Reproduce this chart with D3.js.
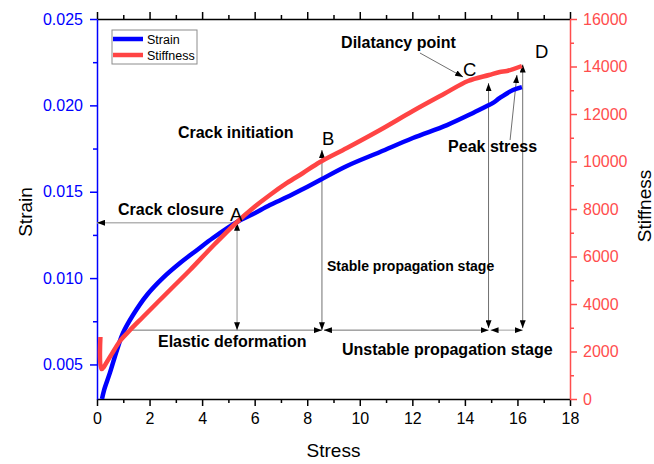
<!DOCTYPE html>
<html>
<head>
<meta charset="utf-8">
<script src="https://cdn.jsdelivr.net/npm/d3@7"></script>
<style>
  body { margin: 0; background: #fff; }
  svg { display: block; }
  text { font-family: "Liberation Sans", Arial, sans-serif; }
</style>
</head>
<body>
<svg id="chart" width="654" height="464"></svg>
<script>
// Strain vs. stress
const strainStress = [0.19, 0.27, 0.49, 0.76, 0.99, 1.37, 1.90, 2.51, 3.16, 3.81, 4.41, 5.33, 5.94, 6.58, 7.23, 7.84, 8.49, 9.51, 10.77, 12.02, 13.32, 14.31, 14.84, 15.07, 15.33, 15.83, 16.17];
const strainValues = [0.0030, 0.00352, 0.00451, 0.00584, 0.00682, 0.00786, 0.00902, 0.01001, 0.01087, 0.01163, 0.01232, 0.01325, 0.01371, 0.01423, 0.01469, 0.01516, 0.01568, 0.01649, 0.01730, 0.01811, 0.01886, 0.01956, 0.01996, 0.02014, 0.02043, 0.02089, 0.02106];

// Stiffness vs. stress
const stiffStress = [0.13, 0.17, 0.49, 0.875, 1.26, 1.75, 2.28, 2.89, 3.54, 4.41, 5.33, 5.94, 6.58, 7.23, 7.84, 8.49, 9.51, 10.77, 12.02, 13.20, 14.12, 14.92, 15.33, 15.60, 16.17];
const stiffValues = [2611, 1263, 1768, 2442, 2905, 3453, 4042, 4716, 5432, 6442, 7453, 8042, 8589, 9095, 9516, 9979, 10568, 11326, 12126, 12842, 13389, 13642, 13768, 13811, 14021];

// Ticks
const stressTicks = [0, 2, 4, 6, 8, 10, 12, 14, 16, 18];
const stressMinorTicks = [1, 3, 5, 7, 9, 11, 13, 15, 17];
const strainTicks = [0.005, 0.010, 0.015, 0.020, 0.025];
const strainMinorTicks = [0.0075, 0.0125, 0.0175, 0.0225];
const stiffTicks = [0, 2000, 4000, 6000, 8000, 10000, 12000, 14000, 16000];
const stiffMinorTicks = [1000, 3000, 5000, 7000, 9000, 11000, 13000, 15000];

// Stage boundaries (stress) and annotation levels
const stageStress = { A: 5.33, B: 8.56, C: 14.9, D: 16.2 };
const elasticStart = 1.26;
const baseStiff = 2900;      // level of the horizontal stage arrows
const pointAStrain = 0.0132; // crack closure level
const topStiff = { B: 10480, C: 13300, D: 14080 };

// Text labels (stress, stiffness position)
const labels = [
  { t: "Crack closure", x: 0.80, y: 7768, bold: true, size: 16 },
  { t: "Crack initiation", x: 3.08, y: 10989, bold: true, size: 16 },
  { t: "Dilatancy point", x: 9.29, y: 14779, bold: true, size: 16 },
  { t: "Peak stress", x: 13.36, y: 10400, bold: true, size: 16 },
  { t: "Stable propagation stage", x: 8.75, y: 5389, bold: true, size: 14 },
  { t: "Elastic deformation", x: 2.32, y: 2189, bold: true, size: 16 },
  { t: "Unstable propagation stage", x: 9.32, y: 1853, bold: true, size: 16 },
  { t: "A", x: 5.06, y: 7495, bold: false, size: 18.5 },
  { t: "B", x: 8.56, y: 10695, bold: false, size: 18.5 },
  { t: "C", x: 13.93, y: 13600, bold: false, size: 18.5 },
  { t: "D", x: 16.67, y: 14358, bold: false, size: 18.5 }
];

const BLUE = "#0000ff";
const RED = "#ff4444";
const RED_AXIS = "#ff4d4d";

const svg = d3.select("#chart");
const L = 97, R = 570, T = 19, B = 399;

const x = d3.scaleLinear().domain([0, 18]).range([L, R]);
const yL = d3.scaleLinear().domain([0.003, 0.025]).range([B, T]);
const yR = d3.scaleLinear().domain([0, 16000]).range([B, T]);

// arrow markers
const defs = svg.append("defs");
defs.append("marker")
  .attr("id", "arrow")
  .attr("viewBox", "0 0 8 6")
  .attr("refX", 8).attr("refY", 3)
  .attr("markerWidth", 8).attr("markerHeight", 6)
  .attr("markerUnits", "userSpaceOnUse")
  .attr("orient", "auto-start-reverse")
  .append("path").attr("d", "M0,0L8,3L0,6Z").attr("fill", "#000");
defs.append("clipPath").attr("id", "plotClip")
  .append("rect").attr("x", L).attr("y", T).attr("width", R - L).attr("height", B - T);

// Axes
function styleAxis(g, color) {
  g.select(".domain").attr("stroke", color).attr("stroke-width", 1.5);
  g.selectAll(".tick line").attr("stroke", color).attr("stroke-width", 1.5);
  g.selectAll(".tick text").attr("fill", color).attr("font-size", 16)
    .attr("font-family", '"Liberation Sans", Arial, sans-serif');
}

// bottom
svg.append("g").attr("transform", `translate(0,${B})`)
  .call(d3.axisBottom(x).tickValues(stressMinorTicks).tickSize(4).tickFormat(""))
  .call(g => { styleAxis(g, "#000"); g.select(".domain").remove(); });
svg.append("g").attr("transform", `translate(0,${B})`)
  .call(d3.axisBottom(x).tickValues(stressTicks).tickSize(7).tickSizeOuter(0).tickPadding(6.5).tickFormat(d3.format("d")))
  .call(g => styleAxis(g, "#000"));

// top
svg.append("g").attr("transform", `translate(0,${T})`)
  .call(d3.axisTop(x).tickValues(stressMinorTicks).tickSize(4).tickFormat(""))
  .call(g => { styleAxis(g, "#000"); g.select(".domain").remove(); });
svg.append("g").attr("transform", `translate(0,${T})`)
  .call(d3.axisTop(x).tickValues(stressTicks).tickSize(7).tickSizeOuter(0).tickFormat(""))
  .call(g => styleAxis(g, "#000"));

// left (strain)
svg.append("g").attr("transform", `translate(${L},0)`)
  .call(d3.axisLeft(yL).tickValues(strainMinorTicks).tickSize(4).tickFormat(""))
  .call(g => { styleAxis(g, BLUE); g.select(".domain").remove(); });
svg.append("g").attr("transform", `translate(${L},0)`)
  .call(d3.axisLeft(yL).tickValues(strainTicks).tickSize(7).tickSizeOuter(0).tickPadding(7).tickFormat(d3.format(".3f")))
  .call(g => styleAxis(g, BLUE));

// right (stiffness)
svg.append("g").attr("transform", `translate(${R},0)`)
  .call(d3.axisRight(yR).tickValues(stiffMinorTicks).tickSize(4).tickFormat(""))
  .call(g => { styleAxis(g, RED_AXIS); g.select(".domain").remove(); });
svg.append("g").attr("transform", `translate(${R},0)`)
  .call(d3.axisRight(yR).tickValues(stiffTicks).tickSize(7).tickSizeOuter(0).tickPadding(6).tickFormat(d3.format("d")))
  .call(g => styleAxis(g, RED_AXIS));

// axis titles
svg.append("text").attr("x", (L + R) / 2).attr("y", 457)
  .attr("text-anchor", "middle").attr("font-size", 19).text("Stress");
svg.append("text").attr("transform", `translate(32,212) rotate(-90)`)
  .attr("text-anchor", "middle").attr("font-size", 19).text("Strain");
svg.append("text").attr("transform", `translate(651,206) rotate(-90)`)
  .attr("text-anchor", "middle").attr("font-size", 19).text("Stiffness");

// annotation lines
const ann = svg.append("g").attr("fill", "none");
function arrowLine(x1, y1, x2, y2, opts) {
  const l = ann.append("line")
    .attr("x1", x1).attr("y1", y1).attr("x2", x2).attr("y2", y2)
    .attr("stroke", opts.color || "#707070")
    .attr("stroke-width", opts.width || 1);
  if (opts.start) l.attr("marker-start", "url(#arrow)");
  if (opts.end) l.attr("marker-end", "url(#arrow)");
}
const yBase = yR(baseStiff);
const yA = yL(pointAStrain);

// crack closure (light grey)
arrowLine(x(stageStress.A), yA, x(0), yA, { color: "#b4b4b4", width: 1.5, end: true });
arrowLine(x(stageStress.A), yBase, x(stageStress.A), yA, { color: "#b4b4b4", width: 1.5, start: true, end: true });
// elastic deformation
arrowLine(x(elasticStart), yBase, x(stageStress.B), yBase, { end: true });
// B vertical
arrowLine(x(stageStress.B), yBase, x(stageStress.B), yR(topStiff.B), { start: true, end: true });
// stable stage horizontal
arrowLine(x(stageStress.B) + 2, yBase, x(stageStress.C), yBase, { start: true, end: true });
// C vertical
arrowLine(x(stageStress.C), yBase - 2, x(stageStress.C), yR(topStiff.C), { start: true, end: true });
// unstable stage horizontal
arrowLine(x(stageStress.C) + 2, yBase, x(stageStress.D), yBase, { color: "#a0a0a0", start: true, end: true });
// D vertical
arrowLine(x(stageStress.D), yBase - 2, x(stageStress.D), yR(topStiff.D), { start: true, end: true });
// peak stress pointer
arrowLine(x(15.72), yR(10905), x(15.98), yR(13642), { end: true });
// dilatancy point pointer
arrowLine(x(12.29), yR(14568), x(13.93), yR(13558), { end: true });

// curves
const strainLine = d3.line()
  .x(d => x(d[0])).y(d => yL(d[1]))
  .curve(d3.curveCatmullRom.alpha(0.5));
const stiffLine = d3.line()
  .x(d => x(d[0])).y(d => yR(d[1]))
  .curve(d3.curveCatmullRom.alpha(0.5));

const plot = svg.append("g").attr("clip-path", "url(#plotClip)");
plot.append("path")
  .datum(d3.zip(strainStress, strainValues))
  .attr("d", strainLine)
  .attr("fill", "none").attr("stroke", BLUE).attr("stroke-width", 4.5)
  .attr("stroke-linejoin", "round");
plot.append("path")
  .datum(d3.zip(stiffStress, stiffValues))
  .attr("d", stiffLine)
  .attr("fill", "none").attr("stroke", RED).attr("stroke-width", 4.5)
  .attr("stroke-linejoin", "round");

// labels
svg.append("g").selectAll("text").data(labels).join("text")
  .attr("x", d => x(d.x)).attr("y", d => yR(d.y))
  .attr("font-size", d => d.size)
  .attr("font-weight", d => d.bold ? "bold" : "normal")
  .attr("fill", "#000")
  .text(d => d.t);

// legend
const lg = svg.append("g");
lg.append("rect").attr("x", 112).attr("y", 30).attr("width", 85).attr("height", 34)
  .attr("fill", "#fff").attr("stroke", "#8c8c8c").attr("stroke-width", 1);
[["Strain", BLUE, 39, 44], ["Stiffness", RED, 55, 59.5]].forEach(([name, c, ly, ty]) => {
  lg.append("line").attr("x1", 113).attr("x2", 143).attr("y1", ly).attr("y2", ly)
    .attr("stroke", c).attr("stroke-width", 4.5);
  lg.append("text").attr("x", 147).attr("y", ty).attr("font-size", 12.5).text(name);
});
</script>
</body>
</html>
